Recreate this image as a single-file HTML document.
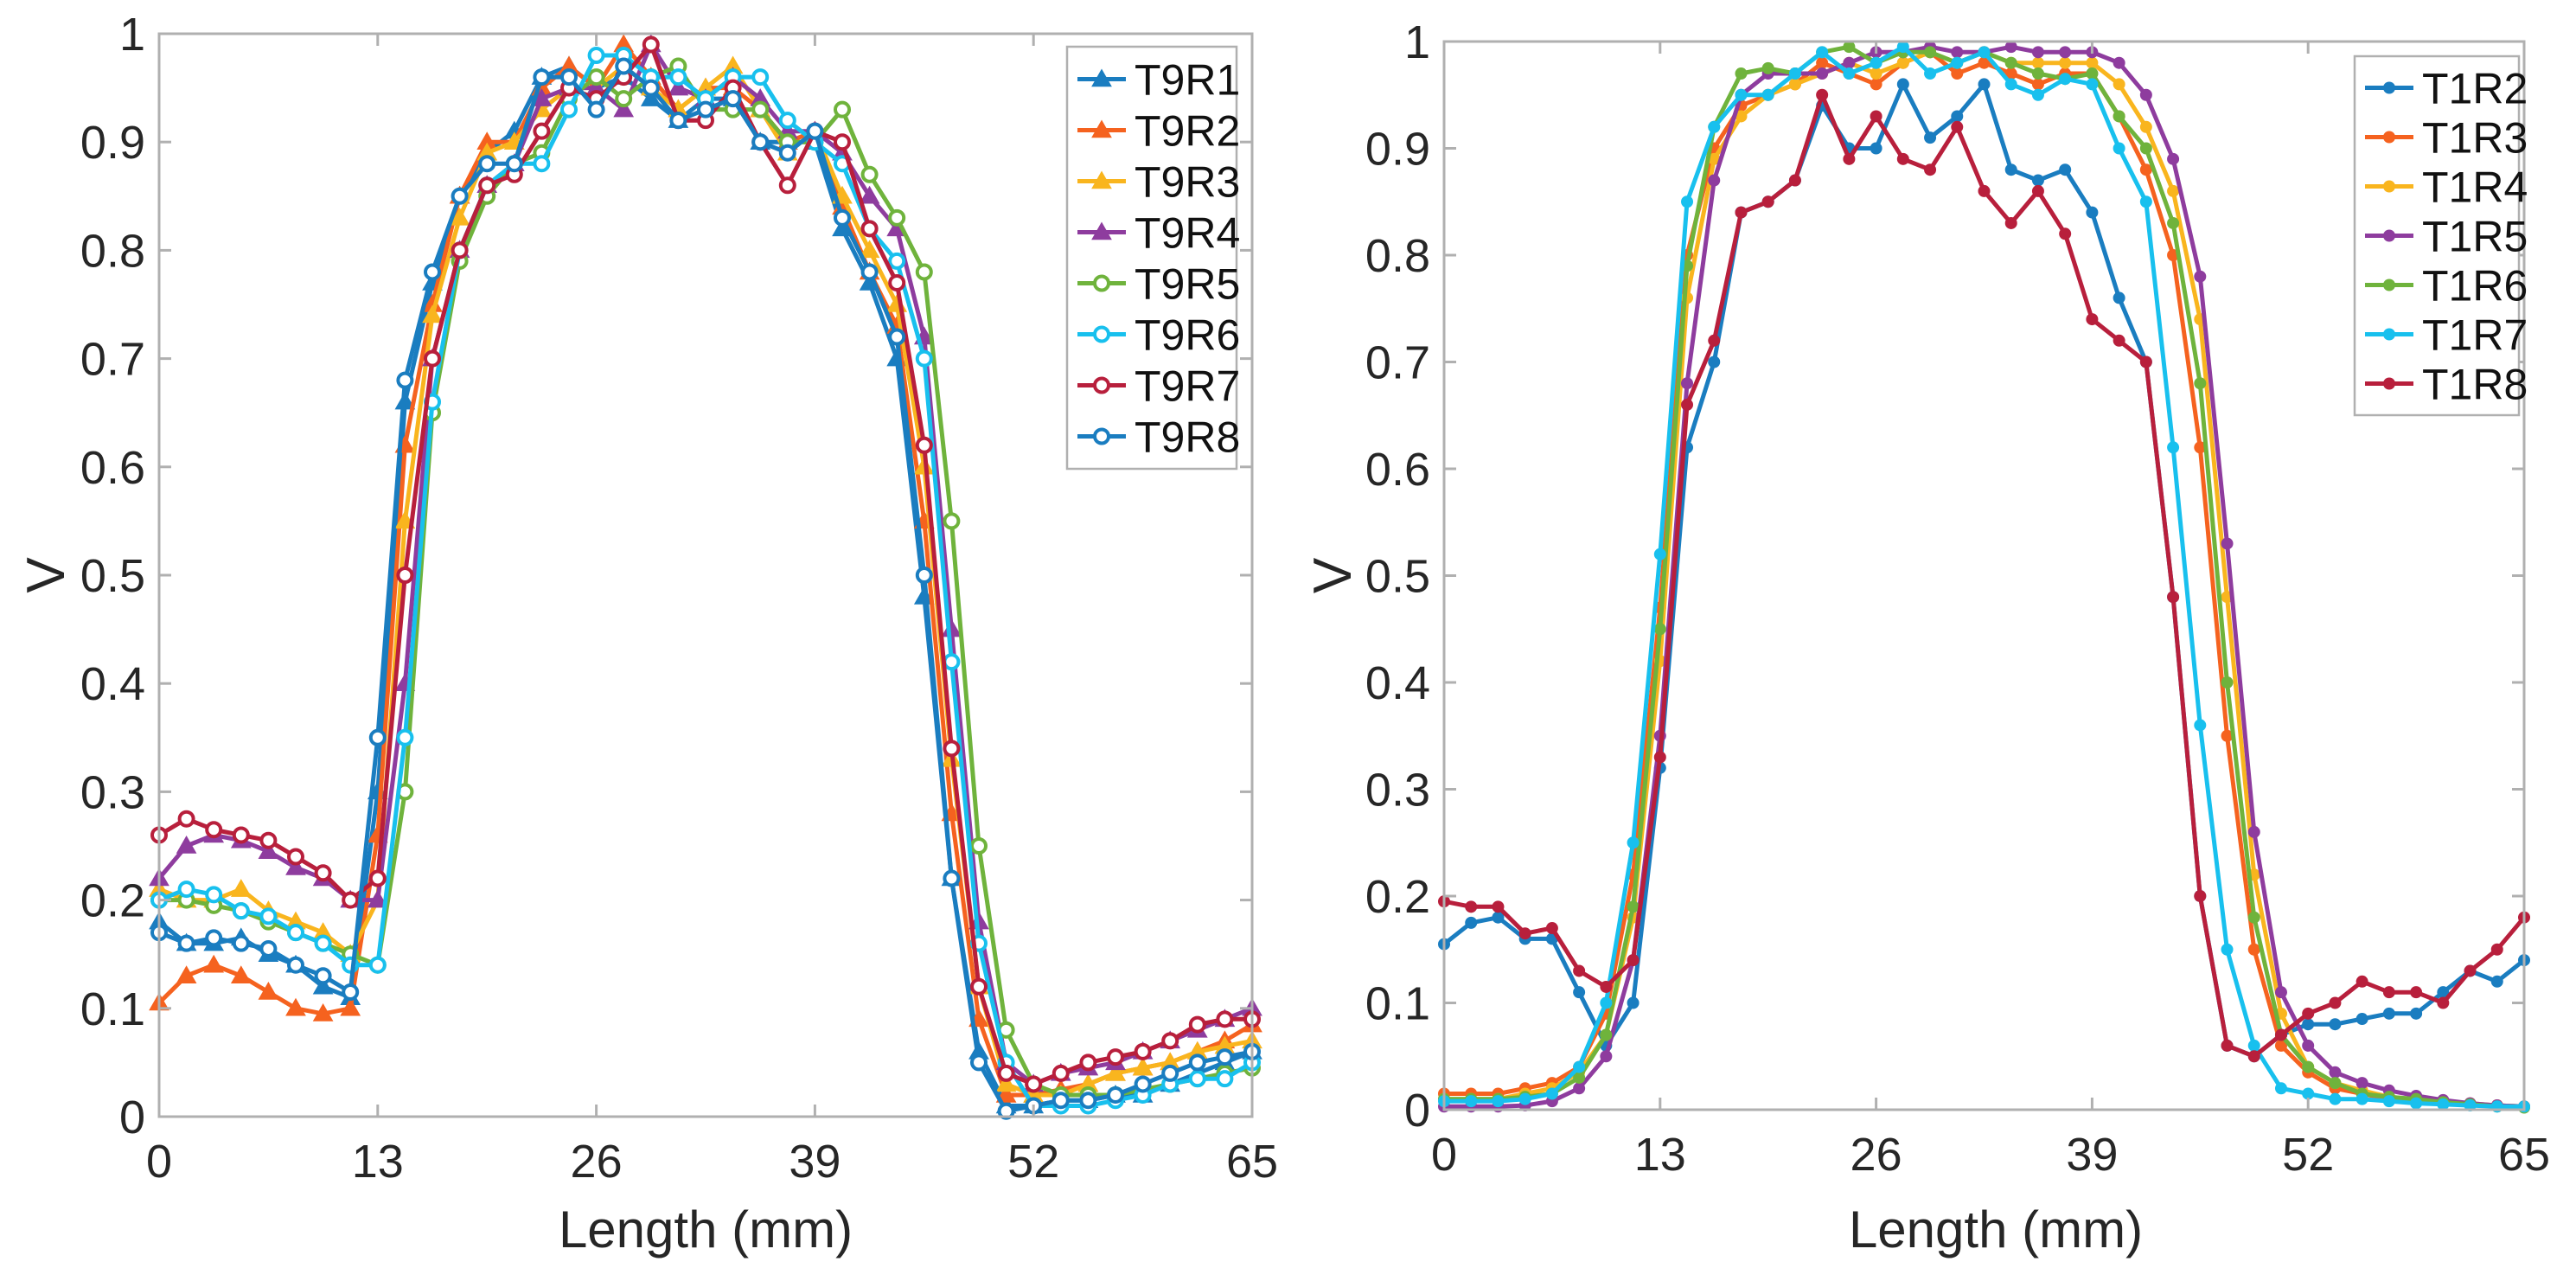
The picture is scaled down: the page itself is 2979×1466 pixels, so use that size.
<!DOCTYPE html>
<html><head><meta charset="utf-8"><style>
html,body{margin:0;padding:0;background:#fff;}
svg{display:block;font-family:"Liberation Sans",sans-serif;}
</style></head><body>
<svg id="fig" width="2979" height="1466" viewBox="0 0 2979 1466" xmlns="http://www.w3.org/2000/svg"></svg>
<script>
const xTicks=[0,13,26,39,52,65];
const yTicks=[0,0.1,0.2,0.3,0.4,0.5,0.6,0.7,0.8,0.9,1];
const yTickLabels=["0","0.1","0.2","0.3","0.4","0.5","0.6","0.7","0.8","0.9","1"];
const xStep=1.625;
const leftNames=["T9R1","T9R2","T9R3","T9R4","T9R5","T9R6","T9R7","T9R8"];
const T9R1=[0.18,0.16,0.16,0.165,0.15,0.14,0.12,0.11,0.30,0.66,0.77,0.85,0.89,0.91,0.96,0.97,0.95,0.96,0.94,0.92,0.94,0.94,0.90,0.90,0.90,0.82,0.77,0.70,0.48,0.22,0.06,0.01,0.01,0.015,0.015,0.02,0.02,0.03,0.04,0.05,0.06];
const T9R2=[0.105,0.13,0.14,0.13,0.115,0.10,0.095,0.10,0.26,0.62,0.75,0.85,0.90,0.90,0.95,0.97,0.95,0.99,0.96,0.93,0.95,0.95,0.93,0.90,0.91,0.84,0.78,0.73,0.55,0.28,0.09,0.02,0.02,0.025,0.03,0.04,0.045,0.05,0.06,0.07,0.085];
const T9R3=[0.21,0.20,0.20,0.21,0.19,0.18,0.17,0.15,0.20,0.55,0.74,0.83,0.89,0.90,0.93,0.95,0.95,0.97,0.95,0.93,0.95,0.97,0.93,0.89,0.91,0.85,0.80,0.75,0.60,0.33,0.12,0.03,0.02,0.02,0.03,0.04,0.045,0.05,0.06,0.065,0.07];
const T9R4=[0.22,0.25,0.26,0.255,0.245,0.23,0.22,0.20,0.20,0.40,0.70,0.80,0.86,0.88,0.94,0.95,0.95,0.93,0.99,0.95,0.94,0.96,0.94,0.91,0.91,0.89,0.85,0.82,0.72,0.45,0.18,0.05,0.03,0.04,0.045,0.05,0.06,0.07,0.08,0.09,0.10];
const T9R5=[0.20,0.20,0.195,0.19,0.18,0.17,0.16,0.15,0.14,0.30,0.65,0.79,0.85,0.88,0.89,0.94,0.96,0.94,0.96,0.97,0.93,0.93,0.93,0.90,0.90,0.93,0.87,0.83,0.78,0.55,0.25,0.08,0.03,0.02,0.02,0.02,0.025,0.03,0.035,0.04,0.045];
const T9R6=[0.20,0.21,0.205,0.19,0.185,0.17,0.16,0.14,0.14,0.35,0.66,0.80,0.86,0.88,0.88,0.93,0.98,0.98,0.96,0.96,0.94,0.96,0.96,0.92,0.90,0.88,0.82,0.79,0.70,0.42,0.16,0.05,0.01,0.01,0.01,0.015,0.02,0.03,0.035,0.035,0.05];
const T9R7=[0.26,0.275,0.265,0.26,0.255,0.24,0.225,0.20,0.22,0.50,0.70,0.80,0.86,0.87,0.91,0.95,0.94,0.96,0.99,0.92,0.92,0.95,0.90,0.86,0.91,0.90,0.82,0.77,0.62,0.34,0.12,0.04,0.03,0.04,0.05,0.055,0.06,0.07,0.085,0.09,0.09];
const T9R8=[0.17,0.16,0.165,0.16,0.155,0.14,0.13,0.115,0.35,0.68,0.78,0.85,0.88,0.88,0.96,0.96,0.93,0.97,0.95,0.92,0.93,0.94,0.90,0.89,0.91,0.83,0.78,0.72,0.50,0.22,0.05,0.005,0.01,0.015,0.015,0.02,0.03,0.04,0.05,0.055,0.06];
const rightNames=["T1R2","T1R3","T1R4","T1R5","T1R6","T1R7","T1R8"];
const T1R2=[0.155,0.175,0.18,0.16,0.16,0.11,0.06,0.10,0.32,0.62,0.70,0.84,0.85,0.87,0.94,0.90,0.90,0.96,0.91,0.93,0.96,0.88,0.87,0.88,0.84,0.76,0.70,0.48,0.20,0.06,0.05,0.07,0.08,0.08,0.085,0.09,0.09,0.11,0.13,0.12,0.14];
const T1R3=[0.015,0.015,0.015,0.02,0.025,0.04,0.09,0.22,0.47,0.80,0.90,0.94,0.95,0.96,0.98,0.97,0.96,0.98,0.99,0.97,0.98,0.97,0.96,0.97,0.97,0.93,0.88,0.80,0.62,0.35,0.15,0.06,0.035,0.02,0.015,0.01,0.01,0.008,0.005,0.004,0.003];
const T1R4=[0.01,0.01,0.01,0.015,0.02,0.035,0.07,0.18,0.42,0.76,0.89,0.93,0.95,0.96,0.97,0.98,0.97,0.98,0.99,0.98,0.99,0.98,0.98,0.98,0.98,0.96,0.92,0.86,0.74,0.48,0.22,0.09,0.04,0.025,0.018,0.012,0.01,0.008,0.006,0.004,0.003];
const T1R5=[0.003,0.003,0.003,0.004,0.008,0.02,0.05,0.14,0.35,0.68,0.87,0.95,0.97,0.97,0.97,0.98,0.99,0.99,0.995,0.99,0.99,0.995,0.99,0.99,0.99,0.98,0.95,0.89,0.78,0.53,0.26,0.11,0.06,0.035,0.025,0.018,0.013,0.009,0.006,0.004,0.003];
const T1R6=[0.01,0.01,0.01,0.012,0.015,0.03,0.07,0.19,0.45,0.79,0.92,0.97,0.975,0.97,0.99,0.995,0.98,0.99,0.99,0.98,0.99,0.98,0.97,0.965,0.97,0.93,0.90,0.83,0.68,0.40,0.18,0.07,0.04,0.025,0.015,0.012,0.01,0.007,0.005,0.003,0.002];
const T1R7=[0.008,0.008,0.008,0.01,0.015,0.04,0.10,0.25,0.52,0.85,0.92,0.95,0.95,0.97,0.99,0.97,0.98,0.995,0.97,0.98,0.99,0.96,0.95,0.965,0.96,0.90,0.85,0.62,0.36,0.15,0.06,0.02,0.015,0.01,0.01,0.008,0.006,0.005,0.004,0.003,0.003];
const T1R8=[0.195,0.19,0.19,0.165,0.17,0.13,0.115,0.14,0.33,0.66,0.72,0.84,0.85,0.87,0.95,0.89,0.93,0.89,0.88,0.92,0.86,0.83,0.86,0.82,0.74,0.72,0.70,0.48,0.20,0.06,0.05,0.07,0.09,0.10,0.12,0.11,0.11,0.10,0.13,0.15,0.18];

const leftData=[T9R1,T9R2,T9R3,T9R4,T9R5,T9R6,T9R7,T9R8];
const rightData=[T1R2,T1R3,T1R4,T1R5,T1R6,T1R7,T1R8];
const leftColors=["#1a7dc0","#f5621f","#f9b51e","#8e3c9e","#6fb33c","#18c0ee","#b81f3c","#1a7dc0"];
const leftMarkers=["tri","tri","tri","tri","circ","circ","circ","circ"];
const rightColors=["#1a7dc0","#f5621f","#f9b51e","#8e3c9e","#6fb33c","#18c0ee","#b81f3c"];

const NS="http://www.w3.org/2000/svg";
const svg=document.getElementById('fig');
function mk(tag,attrs,parent){const e=document.createElementNS(NS,tag);for(const k in attrs)e.setAttribute(k,attrs[k]);(parent||svg).appendChild(e);return e;}

function marker(g,type,x,y,color){
  let m;
  if(type==="tri"){
    const s=11;
    m=mk('polygon',{points:`${x},${y-s} ${x-s},${y+s*0.75} ${x+s},${y+s*0.75}`,fill:color,stroke:color,'stroke-width':1},g);
  }else if(type==="circ"){
    m=mk('circle',{cx:x,cy:y,r:8,fill:'#fff',stroke:color,'stroke-width':4},g);
  }else{
    m=mk('circle',{cx:x,cy:y,r:7,fill:color},g);
  }
  
  
}

function drawChart(cfg){
  const {L,R,T,B,names,data,colors,markers,prefix,legend,ylabelX,xlabelX}=cfg;
  const X=v=>L+(v-0)/(65-0)*(R-L);
  const Y=v=>B-(v-0)/(1-0)*(B-T);
  const g=mk('g',{});
  
  
  data.forEach((arr,si)=>{
    const sg=mk('g',{},g);
    
    
    const pts=arr.map((v,i)=>X(i*xStep).toFixed(1)+','+Y(v).toFixed(1)).join(' ');
    mk('polyline',{points:pts,fill:'none',stroke:colors[si],'stroke-width':5,'stroke-linejoin':'round'},sg);
    arr.forEach((v,i)=>marker(sg,markers[si],X(i*xStep),Y(v),colors[si]));
  });
  const box=mk('rect',{x:L,y:T,width:R-L,height:B-T,fill:'none',stroke:'#b0b0b0','stroke-width':3},g);
  
  
  xTicks.forEach(t=>{
    const x=X(t);
    mk('line',{x1:x,y1:B,x2:x,y2:B-14,stroke:'#b0b0b0','stroke-width':3},g);
    mk('line',{x1:x,y1:T,x2:x,y2:T+14,stroke:'#b0b0b0','stroke-width':3},g);
    const tx=mk('text',{x:x,y:B+70,'font-size':54,'text-anchor':'middle',fill:'#262626'},g);
    tx.textContent=String(t);
    
    
  });
  yTicks.forEach((t,i)=>{
    const y=Y(t);
    mk('line',{x1:L,y1:y,x2:L+14,y2:y,stroke:'#b0b0b0','stroke-width':3},g);
    mk('line',{x1:R,y1:y,x2:R-14,y2:y,stroke:'#b0b0b0','stroke-width':3},g);
    const ty=mk('text',{x:L-16,y:y+19,'font-size':54,'text-anchor':'end',fill:'#262626'},g);
    ty.textContent=yTickLabels[i];
    
    
  });
  const xl=mk('text',{x:xlabelX,y:1442,'font-size':60,'text-anchor':'middle',fill:'#262626'},g);
  xl.textContent='Length (mm)';
  
  
  const yl=mk('text',{x:0,y:0,'font-size':62,'text-anchor':'middle',fill:'#262626',transform:`translate(${ylabelX},${(T+B)/2}) rotate(-90)`},g);
  yl.textContent='V';
  
  
  const lg=mk('g',{},g);
  
  
  mk('rect',{x:legend.x,y:legend.y,width:legend.w,height:legend.rowH*names.length+16,fill:'#fff',stroke:'#b0b0b0','stroke-width':2.5},lg);
  names.forEach((n,i)=>{
    const cy=legend.y+8+legend.rowH*(i+0.5);
    const eg=mk('g',{},lg);
    
    
    mk('line',{x1:legend.x+12,y1:cy,x2:legend.x+68,y2:cy,stroke:colors[i],'stroke-width':5},eg);
    marker(eg,markers[i],legend.x+40,cy,colors[i]);
    const t=mk('text',{x:legend.x+78,y:cy+18,'font-size':50,fill:'#111'},eg);
    t.textContent=n;
  });
}

drawChart({L:184,R:1448,T:39,B:1291,names:leftNames,data:leftData,colors:leftColors,markers:leftMarkers,prefix:'left',
  legend:{x:1234,y:54,w:196,rowH:59},ylabelX:74,xlabelX:816});
drawChart({L:1670,R:2919,T:48,B:1283,names:rightNames,data:rightData,colors:rightColors,markers:rightNames.map(()=>"dot"),prefix:'right',
  legend:{x:2723,y:65,w:190,rowH:57},ylabelX:1562,xlabelX:2308});
</script>
</body></html>
